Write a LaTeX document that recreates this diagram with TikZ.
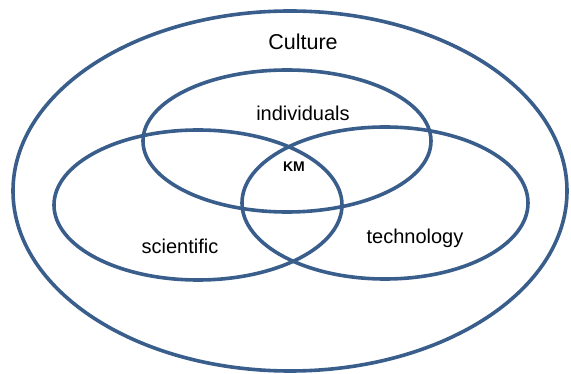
\documentclass[tikz,border=0pt]{standalone}
\usepackage{fontspec}
\setmainfont{Liberation Sans}
\definecolor{ringblue}{RGB}{58,94,140}
\begin{document}
\begin{tikzpicture}[x=1pt,y=-1pt,
  ring/.style={draw=ringblue,line width=3.6pt},
  lbl/.style={font=\fontsize{20}{24}\selectfont,text=black,inner sep=0pt},
  core/.style={font=\bfseries\fontsize{14}{16}\selectfont,text=black,inner sep=0pt}]
  \useasboundingbox (0,0) rectangle (571,374);
  % outer culture boundary and the three overlapping sets
  \draw[ring] (290,191) ellipse [x radius=277,y radius=180];
  \draw[ring] (287,141) ellipse [x radius=144,y radius=71];
  \draw[ring] (198,205) ellipse [x radius=144,y radius=75];
  \draw[ring] (385,203) ellipse [x radius=143,y radius=76];
  % labels
  \node[lbl,font=\fontsize{21.5}{25}\selectfont] (culture) at (303,42) {Culture};
  \node[lbl] (indiv) at (303,113) {individuals};
  \node[lbl] (sci) at (180,246) {scientific};
  \node[lbl] (tech) at (415,238) {technology};
  \node[core] (km) at (294,167) {KM};
\end{tikzpicture}
\end{document}
